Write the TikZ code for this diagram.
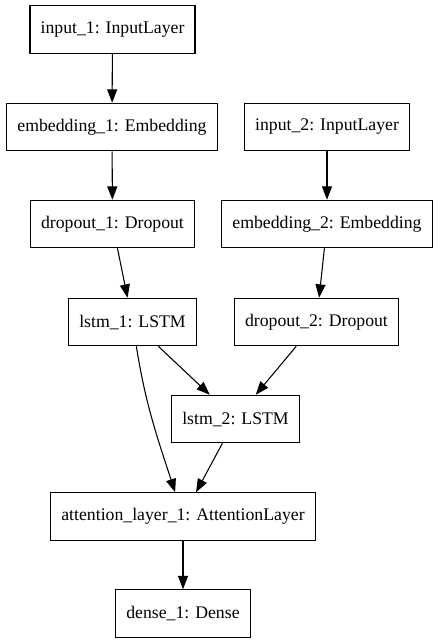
\documentclass[tikz,border=0pt]{standalone}
\usepackage{fontspec}
\setmainfont{Liberation Serif}
\usetikzlibrary{arrows.meta}

\begin{document}
\begin{tikzpicture}[x=0.75pt, y=-0.75pt,
    layer/.style={rectangle, draw, line width=0.9pt, minimum height=35.5pt, inner xsep=8pt,
                  font=\fontsize{13.3}{16}\selectfont},
    edge/.style={-{Triangle[length=10pt, width=7.5pt]}, line width=0.8pt}]
                        \useasboundingbox (0,0) rectangle (440,644);

                        \foreach \k/\i/\j/\t in {in1/112.5/29.5/input\_1: InputLayer,
                                                 emb1/112/127/embedding\_1: Embedding,
                                                 in2/327/127/input\_2: InputLayer,
                                                 drop1/112.5/224/dropout\_1: Dropout,
                                                 emb2/327/224/embedding\_2: Embedding,
                                                 lstm1/132.5/322/lstm\_1: LSTM,
                                                 drop2/316.5/322/dropout\_2: Dropout,
                                                 lstm2/235.5/419/lstm\_2: LSTM,
                                                 att/183/516.5/attention\_layer\_1: AttentionLayer,
                                                 dense/183/613.5/dense\_1: Dense} {
                            \node (\k) at (\i, \j) [layer] {\t};
                        }

                        \draw[edge] (in1) -- (emb1);
                        \draw[edge] (emb1) -- (drop1);
                        \draw[edge] (in2) -- (emb2);
                        \draw[edge] (drop1) -- (lstm1);
                        \draw[edge] (emb2) -- (drop2);
                        \draw[edge] (lstm1) -- (lstm2);
                        \draw[edge] (drop2) -- (lstm2);
                        \draw[edge] (lstm1) to[out=-81, in=108] (att);
                        \draw[edge] (lstm2) -- (att);
                        \draw[edge] (att) -- (dense);
                    \end{tikzpicture}
\end{document}
